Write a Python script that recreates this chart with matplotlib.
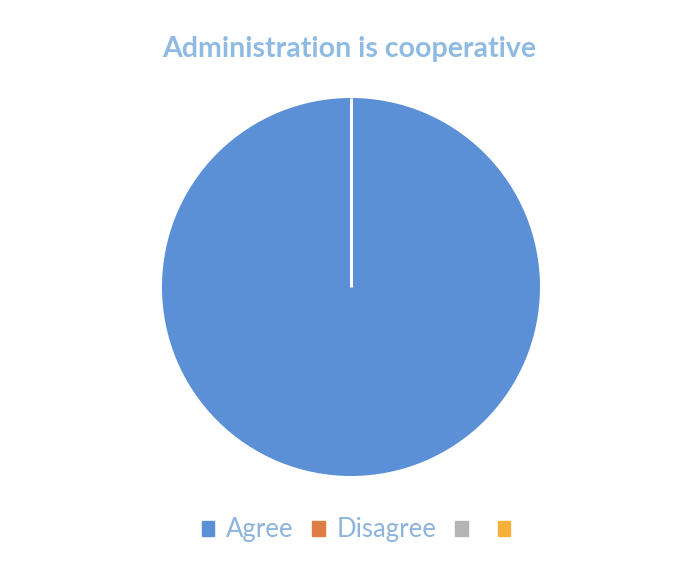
import matplotlib
matplotlib.use("Agg")
import matplotlib.pyplot as plt
import numpy as np

categories = ["Agree", "Disagree", "", ""]
values = [100, 0, 0, 0]
colors = ["#5b8fd6", "#e07c45", "#b4b4b4", "#f7b13a"]
title = "Administration is cooperative"

plt.rcParams['font.family'] = ['Lato', 'DejaVu Sans']

fig = plt.figure(figsize=(6.8, 5.7), dpi=100)
fig.patch.set_facecolor("white")
ax = fig.add_axes([0.2382, 0.1649, 0.5559, 0.6632])
wedges, _ = ax.pie(values, colors=colors, startangle=90, counterclock=False,
                   wedgeprops=dict(linewidth=0))
ax.set_xlim(-1, 1)
ax.set_ylim(-1, 1)
ax.set_aspect("equal")

# white separator line at the start of the first wedge
w = wedges[0]
t = np.deg2rad(w.theta1)
cx, cy = w.center
ax.plot([cx, cx + w.r * np.cos(t)], [cy, cy + w.r * np.sin(t)],
        color="white", linewidth=2.2, solid_capstyle="butt")

fig.text(0.514, 1 - 49 / 570, title, ha="center", va="center",
         fontsize=20.5, fontweight="bold", color="#8fbbe3")

handles = [plt.Rectangle((0, 0), 1, 1, color=c) for c in colors]
leg = fig.legend(handles, categories, loc="center", ncol=4,
                 bbox_to_anchor=(0.532, 1 - 530 / 570), frameon=False,
                 handlelength=0.5, handleheight=0.5, handletextpad=0.45,
                 columnspacing=0.72, fontsize=18.5)
for txt in leg.get_texts():
    txt.set_color("#8cb4dc")

fig.savefig("out.png", dpi=100, facecolor="white")
